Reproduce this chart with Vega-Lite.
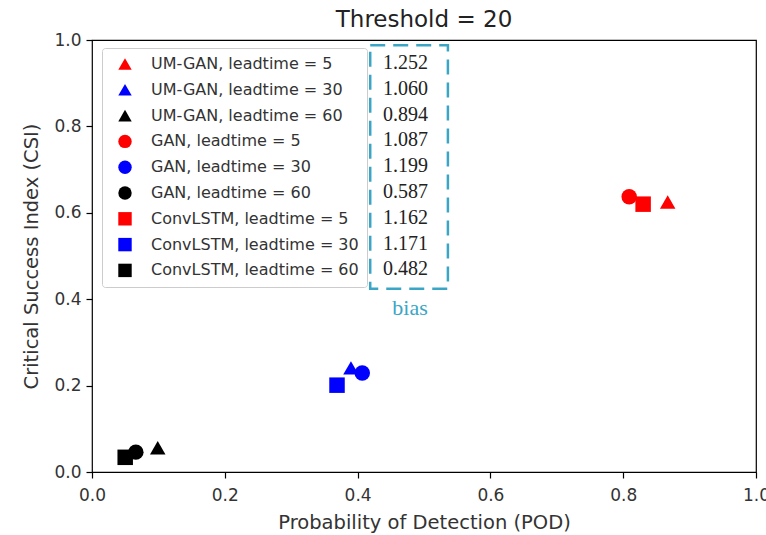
{
  "$schema": "https://vega.github.io/schema/vega-lite/v6.json",
  "width": 664,
  "height": 432,
  "autosize": {"type": "none"},
  "padding": {"left": 92, "top": 40, "right": 10, "bottom": 63},
  "background": "white",
  "title": {"text": "Threshold = 20", "fontSize": 23, "font": "DejaVu Sans", "fontWeight": "normal", "color": "#222", "anchor": "middle", "offset": -1},
  "config": {
    "view": {"stroke": "#000", "strokeWidth": 1.2},
    "axis": {
      "domain": false, "grid": false, "ticks": true, "tickColor": "#000", "tickSize": 6, "tickWidth": 1.2,
      "labelFont": "DejaVu Sans", "labelFontSize": 17, "labelColor": "#333", "labelPadding": 9,
      "labelFlush": false, "labelOverlap": false,
      "titleFont": "DejaVu Sans", "titleFontSize": 19.5, "titleFontWeight": "normal", "titleColor": "#333"
    }
  },
  "layer": [
    {
      "data": {"values": [
        {"series": "UM-GAN, leadtime = 5", "pod": 0.867, "csi": 0.625, "bias": "1.252"},
        {"series": "UM-GAN, leadtime = 30", "pod": 0.390, "csi": 0.241, "bias": "1.060"},
        {"series": "UM-GAN, leadtime = 60", "pod": 0.099, "csi": 0.056, "bias": "0.894"},
        {"series": "GAN, leadtime = 5", "pod": 0.809, "csi": 0.637, "bias": "1.087"},
        {"series": "GAN, leadtime = 30", "pod": 0.407, "csi": 0.229, "bias": "1.199"},
        {"series": "GAN, leadtime = 60", "pod": 0.066, "csi": 0.046, "bias": "0.587"},
        {"series": "ConvLSTM, leadtime = 5", "pod": 0.830, "csi": 0.620, "bias": "1.162"},
        {"series": "ConvLSTM, leadtime = 30", "pod": 0.369, "csi": 0.201, "bias": "1.171"},
        {"series": "ConvLSTM, leadtime = 60", "pod": 0.050, "csi": 0.034, "bias": "0.482"}
      ]},
      "mark": {"type": "point", "filled": true, "opacity": 1, "size": 240, "strokeWidth": 0},
      "encoding": {
        "x": {"field": "pod", "type": "quantitative", "title": "Probability of Detection (POD)",
              "scale": {"domain": [0, 1], "nice": false, "zero": false},
              "axis": {"values": [0, 0.2, 0.4, 0.6, 0.8, 1], "format": ".1f", "titlePadding": 10}},
        "y": {"field": "csi", "type": "quantitative", "title": "Critical Success Index (CSI)",
              "scale": {"domain": [0, 1], "nice": false, "zero": false},
              "axis": {"values": [0, 0.2, 0.4, 0.6, 0.8, 1], "format": ".1f", "labelPadding": 5, "titlePadding": 12}},
        "color": {"field": "series", "type": "nominal",
          "scale": {
            "domain": ["UM-GAN, leadtime = 5", "UM-GAN, leadtime = 30", "UM-GAN, leadtime = 60", "GAN, leadtime = 5", "GAN, leadtime = 30", "GAN, leadtime = 60", "ConvLSTM, leadtime = 5", "ConvLSTM, leadtime = 30", "ConvLSTM, leadtime = 60"],
            "range": ["#ff0000", "#0000ff", "#000000", "#ff0000", "#0000ff", "#000000", "#ff0000", "#0000ff", "#000000"]
          },
          "legend": {
            "title": null, "orient": "none", "legendX": 10, "legendY": 8,
            "padding": 8, "symbolOffset": 7, "symbolSize": 180, "symbolStrokeWidth": 0,
            "labelFont": "DejaVu Sans", "labelFontSize": 16, "labelColor": "#333", "labelOffset": 18, "labelLimit": 400,
            "rowPadding": 9.8, "fillColor": "rgba(255,255,255,0.8)", "strokeColor": "#cccccc", "cornerRadius": 3
          }
        },
        "shape": {"field": "series", "type": "nominal",
          "scale": {
            "domain": ["UM-GAN, leadtime = 5", "UM-GAN, leadtime = 30", "UM-GAN, leadtime = 60", "GAN, leadtime = 5", "GAN, leadtime = 30", "GAN, leadtime = 60", "ConvLSTM, leadtime = 5", "ConvLSTM, leadtime = 30", "ConvLSTM, leadtime = 60"],
            "range": ["triangle-up", "triangle-up", "triangle-up", "circle", "circle", "circle", "square", "square", "square"]
          }
        },
        "strokeDash": {"field": "bias", "type": "nominal",
          "scale": {
            "domain": ["1.252", "1.060", "0.894", "1.087", "1.199", "0.587", "1.162", "1.171", "0.482"],
            "range": [[1, 0], [1, 0], [1, 0], [1, 0], [1, 0], [1, 0], [1, 0], [1, 0], [1, 0]]
          },
          "legend": {
            "title": null, "orient": "none", "legendX": 271, "legendY": 13,
            "padding": 0, "symbolSize": 0, "symbolOpacity": 0, "symbolStrokeWidth": 0, "symbolType": "circle",
            "labelOffset": 0, "labelFont": "Liberation Serif", "labelFontSize": 20, "labelColor": "#222",
            "rowPadding": 5.8
          }
        }
      }
    },
    {
      "data": {"values": [{}]},
      "mark": {"type": "rect", "filled": false, "stroke": "#3ba5c5", "strokeWidth": 2.5, "strokeDash": [15, 8]},
      "encoding": {
        "x": {"datum": 0.419, "title": "Probability of Detection (POD)"},
        "x2": {"datum": 0.536},
        "y": {"datum": 0.424, "title": "Critical Success Index (CSI)"},
        "y2": {"datum": 0.988}
      }
    },
    {
      "data": {"values": [{"label": "bias"}]},
      "mark": {"type": "text", "font": "Liberation Serif", "fontSize": 22, "color": "#3ba5c5", "baseline": "middle", "align": "center"},
      "encoding": {
        "x": {"datum": 0.479, "title": "Probability of Detection (POD)"},
        "y": {"datum": 0.38, "title": "Critical Success Index (CSI)"},
        "text": {"field": "label"}
      }
    }
  ]
}
